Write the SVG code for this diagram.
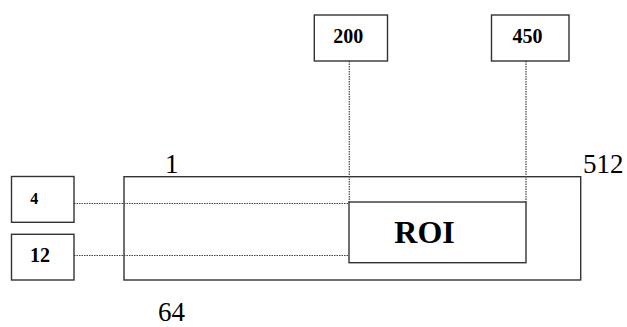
<svg xmlns="http://www.w3.org/2000/svg" width="627" height="327" viewBox="0 0 627 327">
<style>
.box{fill:#fff;stroke:#333;stroke-width:1.4}
.frame{fill:none;stroke:#333;stroke-width:1.4}
.lbl{font-family:"Liberation Serif","Times New Roman",serif;font-weight:bold;fill:#000;text-anchor:middle}
.num{font-family:"Liberation Serif","Times New Roman",serif;font-size:27px;fill:#000}
.dot{fill:none;stroke:#444;stroke-width:1.2;stroke-dasharray:1.5 1}
</style>
<rect width="627" height="327" fill="#fff"/>
<g id="image">
<rect class="frame" x="124" y="176.7" width="456.7" height="103.3"/>
<text class="num" x="165" y="172.7">1</text>
<text class="num" x="583" y="172.7">512</text>
<text class="num" x="158" y="320.5">64</text>
</g>
<g id="connectors">
<line class="dot" x1="74" y1="203.5" x2="349" y2="203.5"/>
<line class="dot" x1="74" y1="255.5" x2="349" y2="255.5"/>
<line class="dot" x1="349.3" y1="61" x2="349.3" y2="202"/>
<line class="dot" x1="526" y1="61" x2="526" y2="202"/>
</g>
<g id="roi">
<rect class="box" x="349" y="202" width="177" height="60.7"/>
<text class="lbl" x="424.5" y="243.3" font-size="32">ROI</text>
</g>
<g id="n200">
<rect class="box" x="314.3" y="15" width="73.2" height="46"/>
<text class="lbl" x="348.3" y="42.7" font-size="20">200</text>
</g>
<g id="n450">
<rect class="box" x="491.5" y="15" width="77.5" height="46"/>
<text class="lbl" x="527.5" y="42.7" font-size="20">450</text>
</g>
<g id="n4">
<rect class="box" x="11.5" y="176.5" width="62.5" height="45.8"/>
<text class="lbl" x="34.2" y="204" font-size="16">4</text>
</g>
<g id="n12">
<rect class="box" x="11.5" y="234.3" width="62.5" height="45.7"/>
<text class="lbl" x="40" y="262.3" font-size="20">12</text>
</g>
</svg>
